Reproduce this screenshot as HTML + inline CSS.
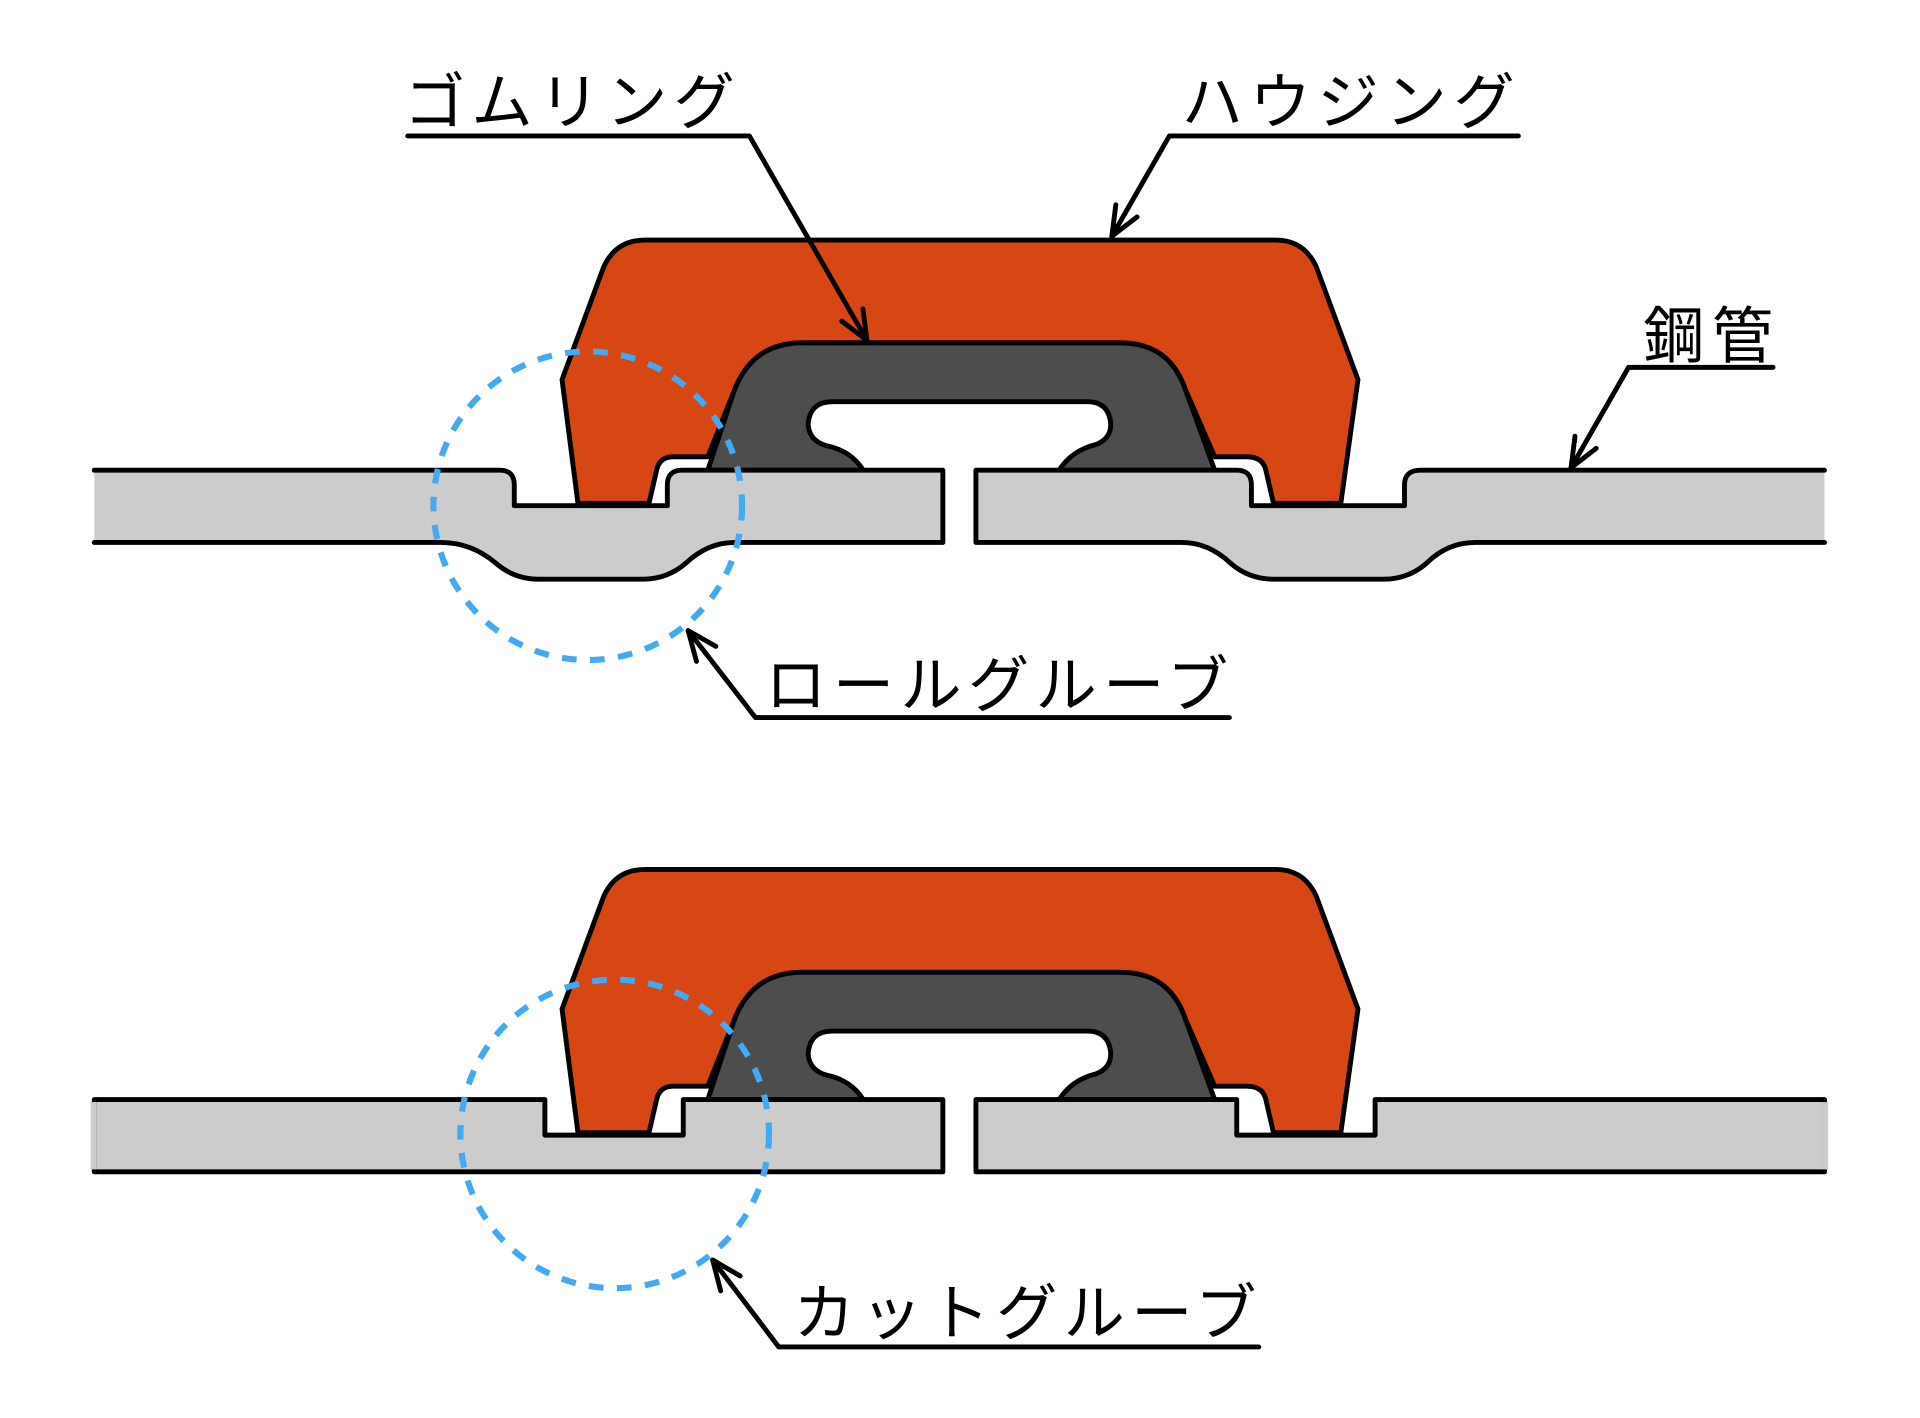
<!DOCTYPE html>
<html><head><meta charset="utf-8"><style>html,body{margin:0;padding:0;background:#fff}svg{display:block}
text{font-family:"Liberation Sans","Noto Sans CJK JP",sans-serif;font-size:50px;fill:#000}</style></head>
<body>
<svg width="1920" height="1418" viewBox="0 0 1568 1158" xmlns="http://www.w3.org/2000/svg">
<defs>
<marker id="ar" markerUnits="userSpaceOnUse" markerWidth="30" markerHeight="30" refX="26" refY="12" orient="auto">
<path d="M2,2 L26,12 L2,22" fill="none" stroke="#000" stroke-width="4" stroke-linecap="round" stroke-linejoin="round"/>
</marker>
<g id="unit" stroke="#000" stroke-width="4" stroke-linejoin="round">
<!-- housing -->
<path fill="#d64714" d="M527,196 L1042,196 Q1065,196 1075,218 L1109,310 L1095,411 L1040,411 L1034,385 Q1032,373 1018,373 L992,373 L968,318 Q955,280 915,280 L655,280 Q615,280 600,318 L578,373 L550,373 Q538,373 536,385 L530,411 L472,411 L459,310 L493,218 Q503,196 527,196 Z"/>
<!-- rubber -->
<path fill="#4d4d4d" d="M578,384 L600,318 Q615,280 655,280 L915,280 Q955,280 968,318 L992,384 L865,384 Q875,368 895,363 Q908,358 907,345 Q905,328 888,328 L680,328 Q661,328 660,347 Q661,360 675,364 Q695,368 705,384 Z"/>
</g>
</defs>

<!-- ===== TOP ===== -->
<use href="#unit"/>
<!-- pipes fill -->
<path fill="#cccccc" stroke="none" d="M77,384 L408,384 Q420,384 420,396 L420,413 L545,413 L545,396 Q545,384 557,384 L770,384 L770,443 L600,443 Q578,443 560,460 Q545,473 525,473 L440,473 Q420,473 405,460 Q385,443 360,443 L77,443 Z"/>
<path fill="#cccccc" stroke="none" d="M797,384 L1010,384 Q1022,384 1022,396 L1022,413 L1147,413 L1147,396 Q1147,384 1160,384 L1490,384 L1490,443 L1205,443 Q1182,443 1165,460 Q1150,473 1130,473 L1040,473 Q1020,473 1005,460 Q987,443 965,443 L797,443 Z"/>
<g fill="none" stroke="#000" stroke-width="4" stroke-linejoin="round" stroke-linecap="round">
<path d="M77,384 L408,384 Q420,384 420,396 L420,413 L545,413 L545,396 Q545,384 557,384 L770,384 L770,443 L600,443 Q578,443 560,460 Q545,473 525,473 L440,473 Q420,473 405,460 Q385,443 360,443 L77,443"/>
<path d="M1490,384 L1160,384 Q1147,384 1147,396 L1147,413 L1022,413 L1022,396 Q1022,384 1010,384 L797,384 L797,443 L965,443 Q987,443 1005,460 Q1020,473 1040,473 L1130,473 Q1150,473 1165,460 Q1182,443 1205,443 L1490,443"/>
</g>
<circle cx="480" cy="413" r="126" fill="none" stroke="#42a9f2" stroke-width="5" stroke-dasharray="12 11"/>

<!-- leaders top -->
<g fill="none" stroke="#000" stroke-width="4" stroke-linecap="round" stroke-linejoin="round">
<path d="M333,111 L612,111 L708,278" marker-end="url(#ar)"/>
<path d="M1240,111 L955,111 L908,193" marker-end="url(#ar)"/>
<path d="M1448,300 L1330,300 L1283,382" marker-end="url(#ar)"/>
<path d="M1004,586 L617,586 L562,515" marker-end="url(#ar)"/>
</g>
<text x="330" y="101" textLength="270" lengthAdjust="spacing">ゴムリング</text>
<text x="965" y="101" textLength="272" lengthAdjust="spacing">ハウジング</text>
<text x="1342" y="292" textLength="106" lengthAdjust="spacing">鋼管</text>
<text x="625" y="577" textLength="378" lengthAdjust="spacing">ロールグルーブ</text>

<!-- ===== BOTTOM ===== -->
<g transform="translate(0,514)"><use href="#unit"/></g>
<path fill="#cccccc" stroke="#000" stroke-width="4" stroke-linejoin="round" d="M77,898 L445,898 L445,927 L558,927 L558,898 L770,898 L770,957 L77,957 Z" />
<path fill="#cccccc" stroke="#000" stroke-width="4" stroke-linejoin="round" d="M1490,898 L1123,898 L1123,927 L1010,927 L1010,898 L797,898 L797,957 L1490,957 Z"/>
<rect x="74" y="900" width="5" height="55" fill="#cccccc"/>
<rect x="1488" y="900" width="5" height="55" fill="#cccccc"/>
<circle cx="502" cy="926" r="126" fill="none" stroke="#42a9f2" stroke-width="5" stroke-dasharray="12 11"/>
<g fill="none" stroke="#000" stroke-width="4" stroke-linecap="round" stroke-linejoin="round">
<path d="M1028,1100 L636,1100 L582,1029" marker-end="url(#ar)"/>
</g>
<text x="648" y="1090" textLength="378" lengthAdjust="spacing">カットグルーブ</text>
</svg>
</body></html>
